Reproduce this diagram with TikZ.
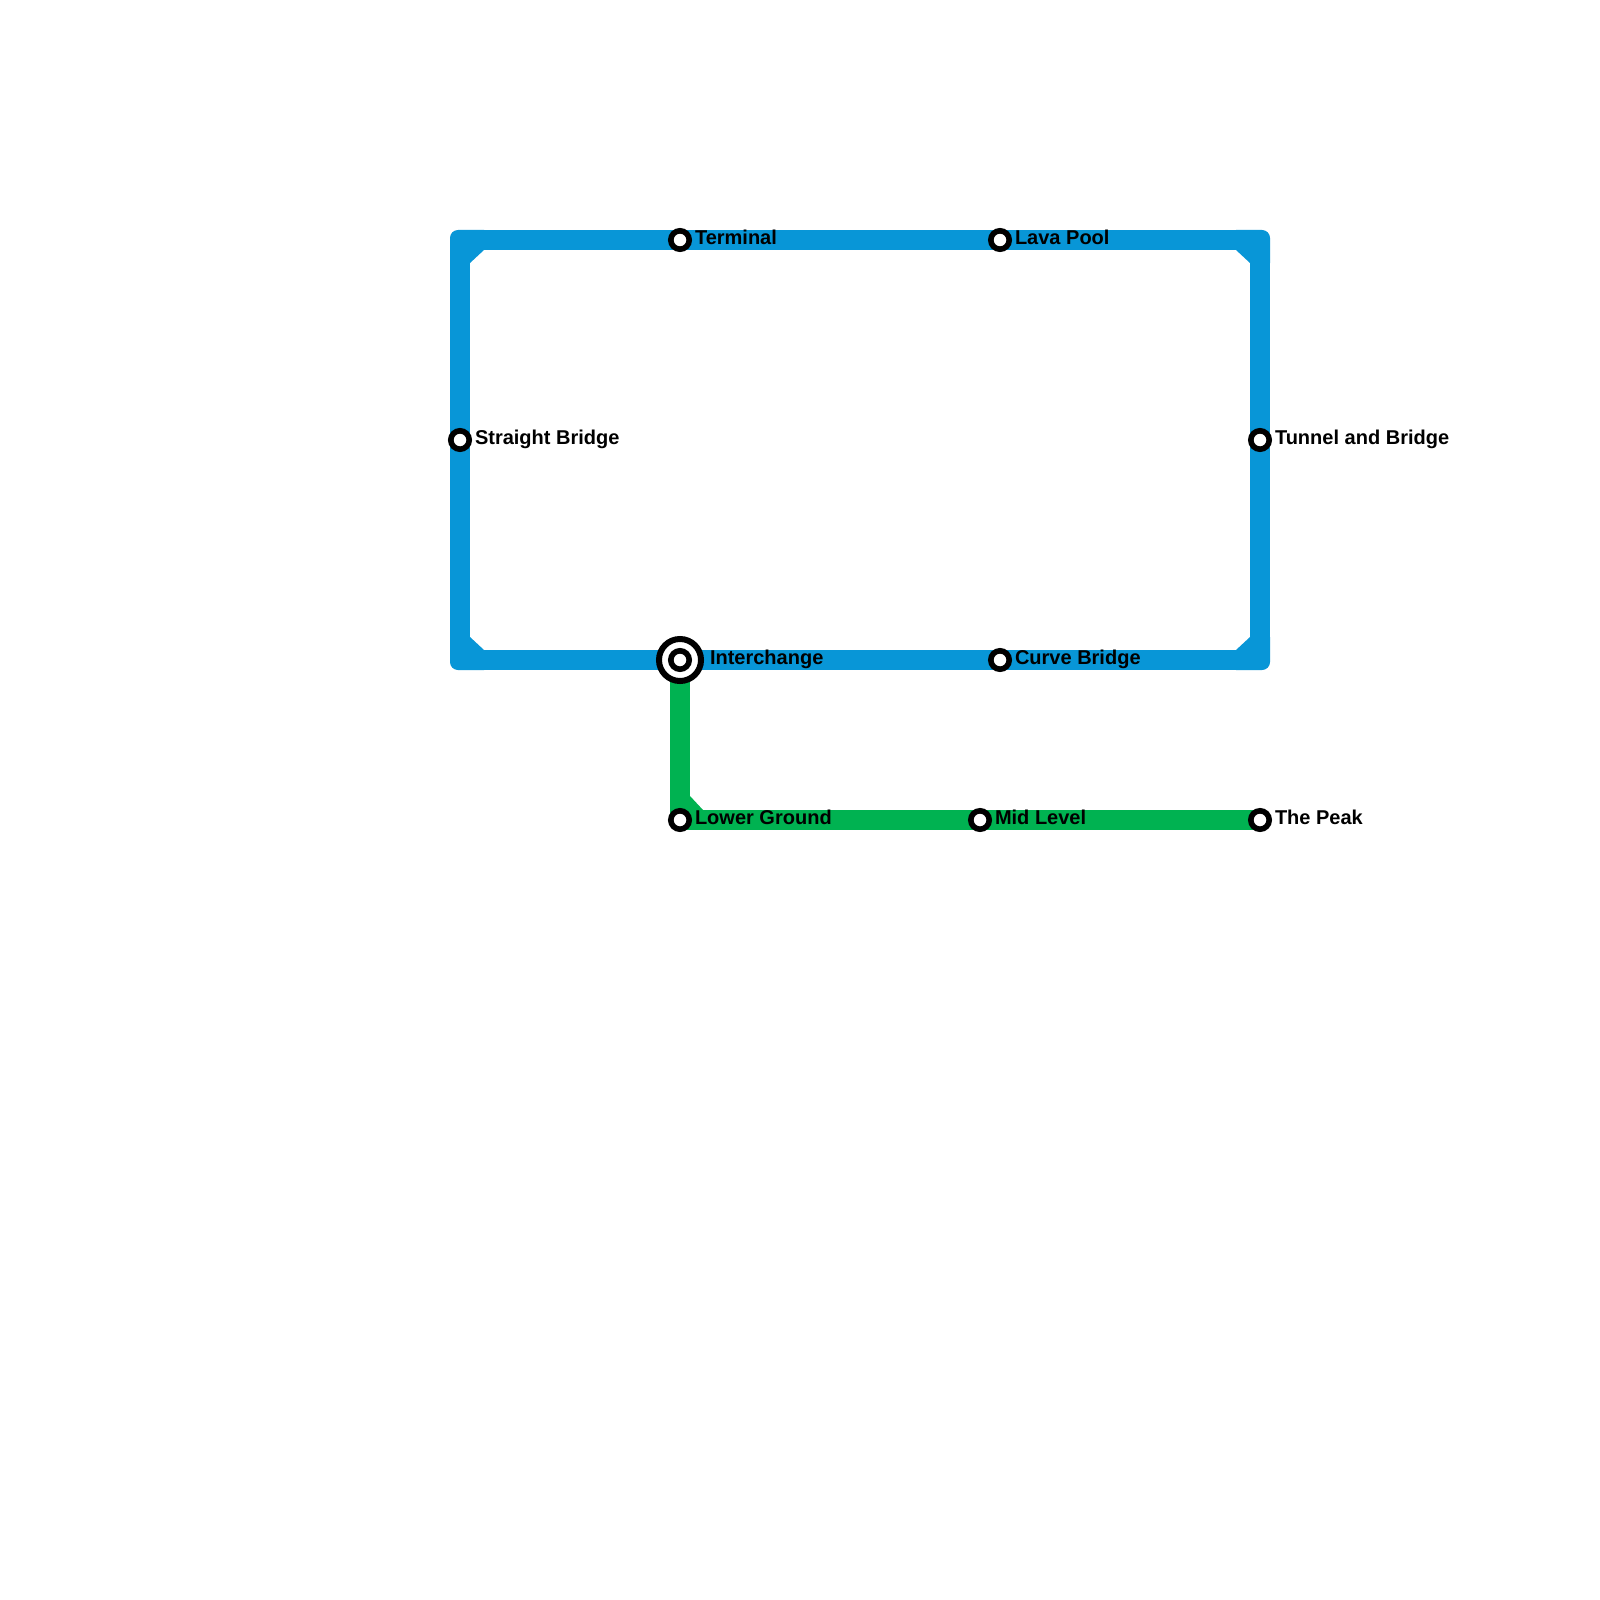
\documentclass[tikz,border=0pt]{standalone}
\usepackage{fontspec}
\setmainfont{Liberation Sans}[BoldFont={* Bold}]
\usetikzlibrary{backgrounds}
\definecolor{lineblue}{HTML}{0896D7}
\definecolor{linegreen}{HTML}{00B251}
\tikzset{
  x=0.01cm,y=-0.01cm,
  station/.style={circle,draw=black,fill=white,line width=0.056cm,minimum size=0.184cm,inner sep=0pt,outer sep=0pt},
  hub/.style={circle,draw=black,fill=white,line width=0.06cm,minimum size=0.42cm,inner sep=0pt,outer sep=0pt},
  stationlabel/.style={anchor=base west,inner sep=0pt,outer sep=0pt,text=black,font=\fontsize{5.69pt}{6.8pt}\selectfont\bfseries},
  metroline/.style={line width=0.2cm,line join=round,line cap=butt},
  blueline/.style={metroline,draw=lineblue},
  greenline/.style={metroline,draw=linegreen},
  cornerpatch/.style={fill=lineblue},
}
\begin{document}
\begin{tikzpicture}
\useasboundingbox (0,0) rectangle (1600,1600);
% corners of the routes
\coordinate (tl) at (460,240);
\coordinate (tr) at (1260,240);
\coordinate (br) at (1260,660);
\coordinate (bl) at (460,660);
% stations
\node[hub] (hubring) at (680,660) {};
\node[station] (interchange) at (680,660) {};
\node[station] (terminal) at (680,240) {};
\node[station] (lava) at (1000,240) {};
\node[station] (straight) at (460,440) {};
\node[station] (tunnel) at (1260,440) {};
\node[station] (curve) at (1000,660) {};
\node[station] (lower) at (680,820) {};
\node[station] (mid) at (980,820) {};
\node[station] (peak) at (1260,820) {};
% labels
\node[stationlabel] (lterminal) at (695,245) {Terminal};
\node[stationlabel] (llava) at (1015,245) {Lava Pool};
\node[stationlabel] (lstraight) at (475,444.5) {Straight Bridge};
\node[stationlabel] (ltunnel) at (1275,444.5) {Tunnel and Bridge};
\node[stationlabel] (linterchange) at (710,664.5) {Interchange};
\node[stationlabel] (lcurve) at (1015,664.5) {Curve Bridge};
\node[stationlabel] (llower) at (695,824.5) {Lower Ground};
\node[stationlabel] (lmid) at (995,824.5) {Mid Level};
\node[stationlabel] (lpeak) at (1275,824.5) {The Peak};
\begin{scope}[on background layer]
  \fill[white] (0,0) rectangle (1600,1600);
  \draw[greenline] (interchange.center) -- (lower.center) -- (mid.center) -- (peak.center);
  \fill[linegreen] (690,796) -- (703,810) -- (690,815) -- cycle;
  \draw[blueline] (tl) -- (terminal.center) -- (lava.center) -- (tr) -- (tunnel.center) -- (br)
     -- (curve.center) -- (interchange.center) -- (bl) -- (straight.center) -- cycle;
  \fill[cornerpatch] (470,263) -- (484,250) -- (484,230) [rounded corners=0.08cm] -- (450,230) [sharp corners] -- (450,263) -- cycle;
  \fill[cornerpatch] (1250,263) -- (1236,250) -- (1236,230) [rounded corners=0.08cm] -- (1270,230) [sharp corners] -- (1270,263) -- cycle;
  \fill[cornerpatch] (470,637) -- (484,650) -- (484,670) [rounded corners=0.08cm] -- (450,670) [sharp corners] -- (450,637) -- cycle;
  \fill[cornerpatch] (1250,637) -- (1236,650) -- (1236,670) [rounded corners=0.08cm] -- (1270,670) [sharp corners] -- (1270,637) -- cycle;
\end{scope}
\end{tikzpicture}
\end{document}
